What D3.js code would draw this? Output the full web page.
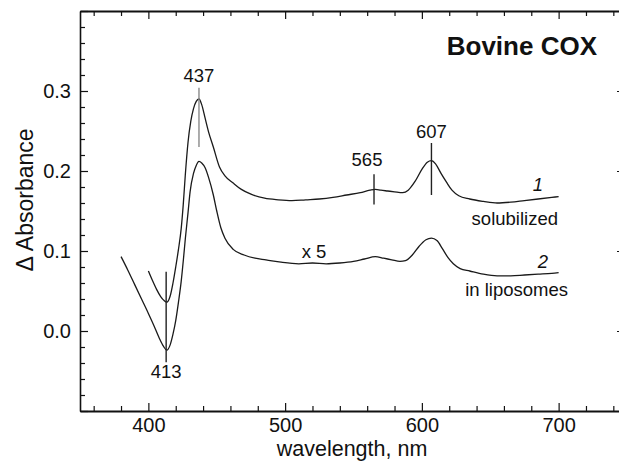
<!DOCTYPE html>
<html><head><meta charset="utf-8">
<script src="https://cdn.jsdelivr.net/npm/d3@7"></script>
<style>
html,body{margin:0;background:#fff;overflow:hidden;width:619px;height:461px;}
svg{display:block;overflow:hidden;font-family:"Liberation Sans",Arial,Helvetica,sans-serif;}
</style></head>
<body><svg id="c" width="619" height="461"></svg>
<script>
// ---- data ----
const wlSolubilized = [400,403,406,409,411.5,413.5,416,418,420,422,424,425.5,427,429,431,433,435,437,439,441.5,444,447.5,452,456,462,468,475,485,495,505,515,525,535,545,555,562,566,570,575,580,586,590,595,600,604,607,610,614,618,622,627,635,645,655,665,675,685,695,700];
const absSolubilized = [0.075,0.063,0.052,0.043,0.038,0.036,0.044,0.060,0.080,0.102,0.128,0.158,0.195,0.236,0.262,0.278,0.287,0.290,0.283,0.266,0.249,0.230,0.205,0.194,0.185,0.177,0.171,0.166,0.164,0.163,0.164,0.165,0.167,0.170,0.173,0.176,0.177,0.176,0.175,0.174,0.173,0.176,0.187,0.202,0.211,0.213,0.209,0.197,0.186,0.176,0.169,0.165,0.162,0.160,0.161,0.163,0.165,0.167,0.168];
const wlLiposomes = [380,385,390,395,400,404,408,411,413.5,416,418,420,422,424,425.6,427,429,430.5,433,435,437,439,441.5,444,447.5,450,453,456,462,470,478,486,497,510,520,530,540,550,558,566,572,578,584,588,593,598,603,607,611,615,619,623,628,635,645,655,665,675,685,695,700];
const absLiposomes = [0.093,0.076,0.058,0.040,0.022,0.007,-0.009,-0.019,-0.024,-0.017,-0.004,0.013,0.036,0.062,0.089,0.115,0.148,0.174,0.197,0.207,0.212,0.210,0.204,0.192,0.170,0.150,0.129,0.116,0.102,0.095,0.091,0.089,0.086,0.084,0.085,0.084,0.085,0.087,0.090,0.093,0.091,0.089,0.087,0.088,0.095,0.106,0.114,0.116,0.113,0.103,0.092,0.084,0.078,0.075,0.071,0.069,0.069,0.070,0.071,0.072,0.073];
const xTickLabels = [400,500,600,700];
const yTickLabels = [0.0,0.1,0.2,0.3];
// peak markers: wavelength, label, absorbance extent of the marker line, label absorbance
const markerNm   = [437, 565, 607, 413];
const markerText = ["437","565","607","413"];
const markerFrom = [0.230, 0.158, 0.170, -0.039];
const markerTo   = [0.304, 0.196, 0.235, 0.074];
const markerLabelAbs = [0.311, 0.206, 0.241, -0.059];

// ---- chart ----
const svg = d3.select("#c");
const x = d3.scaleLinear().domain([350,750]).range([80,627]);
const y = d3.scaleLinear().domain([-0.1,0.4]).range([411,11]);
const font = '"Liberation Sans",Arial,Helvetica,sans-serif';

const majX = d3.range(400,751,100), minX = d3.range(360,751,20).filter(v=>v%100!==0);
const majY = d3.range(-0.1,0.41,0.1).map(v=>+v.toFixed(2));
const minY = d3.range(-0.08,0.4,0.02).map(v=>+v.toFixed(2)).filter(v=>Math.abs(Math.round(v*10)-v*10)>1e-6);

function style(g, w){
  g.selectAll("path.domain").attr("stroke","#111").attr("stroke-width",w);
  g.selectAll(".tick line").attr("stroke","#111").attr("stroke-width",1.2);
  g.selectAll(".tick text").attr("fill","#111").style("font-family",font);
}
// bottom
const gb = svg.append("g").attr("transform","translate(0,411)")
  .call(d3.axisBottom(x).tickValues(majX).tickSizeInner(-8).tickSizeOuter(0).tickPadding(7)
        .tickFormat(d=>xTickLabels.includes(d)?d3.format("d")(d):""));
style(gb,2.2); gb.selectAll(".tick text").style("font-size","20px");
const gb2 = svg.append("g").attr("transform","translate(0,411)")
  .call(d3.axisBottom(x).tickValues(minX).tickSizeInner(-5).tickSizeOuter(0).tickFormat(""));
style(gb2,0); gb2.select("path.domain").remove();
// top
const gt = svg.append("g").attr("transform","translate(0,11)")
  .call(d3.axisTop(x).tickValues(majX).tickSizeInner(-8).tickSizeOuter(0).tickFormat(""));
style(gt,2);
const gt2 = svg.append("g").attr("transform","translate(0,11)")
  .call(d3.axisTop(x).tickValues(minX).tickSizeInner(-5).tickSizeOuter(0).tickFormat(""));
style(gt2,0); gt2.select("path.domain").remove();
// left
const gl = svg.append("g").attr("transform","translate(80,0)")
  .call(d3.axisLeft(y).tickValues(majY).tickSizeInner(-8).tickSizeOuter(0).tickPadding(9)
        .tickFormat(d=>yTickLabels.some(v=>Math.abs(v-d)<1e-6)?d3.format(".1f")(d):""));
style(gl,1.6); gl.selectAll(".tick text").style("font-size","20px");
const gl2 = svg.append("g").attr("transform","translate(80,0)")
  .call(d3.axisLeft(y).tickValues(minY).tickSizeInner(-5).tickSizeOuter(0).tickFormat(""));
style(gl2,0); gl2.select("path.domain").remove();
// right: only the inner tick stubs reach into the picture
const gr = svg.append("g").attr("transform","translate(630,0)")
  .call(d3.axisRight(y).tickValues(majY).tickSizeInner(-13).tickSizeOuter(0).tickFormat(""));
style(gr,0); gr.select("path.domain").remove();

// curves
const line = d3.line().x(d=>x(d[0])).y(d=>y(d[1])).curve(d3.curveMonotoneX);
const s1 = wlSolubilized.map((w,i)=>[w,absSolubilized[i]]);
const s2 = wlLiposomes.map((w,i)=>[w,absLiposomes[i]]);
[s1,s2].forEach(s=>svg.append("path").datum(s).attr("d",line)
  .attr("fill","none").attr("stroke","#1a1a1a").attr("stroke-width",1.3).attr("stroke-linejoin","round"));

// markers
markerNm.forEach((nm,i)=>{
  svg.append("line").attr("x1",x(nm)).attr("x2",x(nm))
    .attr("y1",y(markerFrom[i])).attr("y2",y(markerTo[i]))
    .attr("stroke", i===0?"#8a8a8a":"#222").attr("stroke-width",1.4);
  svg.append("text").attr("x",x(nm)+(i===1?-7:0)).attr("y",y(markerLabelAbs[i]))
    .attr("text-anchor","middle").style("font-size","18.5px").attr("fill","#111").text(markerText[i]);
});

// texts
const txt=(t,xx,yy,size,anchor,extra)=>{const e=svg.append("text").attr("x",xx).attr("y",yy)
  .attr("text-anchor",anchor).style("font-size",size).attr("fill","#111").text(t); if(extra) extra(e); return e;};
txt("Bovine COX",597,55,"26px","end",e=>e.style("font-weight","bold"));
txt("x 5",314,258,"18.5px","middle");
txt("1",538,191,"18.5px","middle",e=>e.style("font-style","italic"));
txt("solubilized",558,225,"18.5px","end");
txt("2",543,268,"18.5px","middle",e=>e.style("font-style","italic"));
txt("in liposomes",568,296,"18.5px","end");
txt("wavelength, nm",352,455.5,"21.5px","middle");
svg.append("text").attr("transform","translate(33,200) rotate(-90)").attr("text-anchor","middle")
  .style("font-size","23px").attr("fill","#111").text("\u0394 Absorbance");
</script></body></html>
